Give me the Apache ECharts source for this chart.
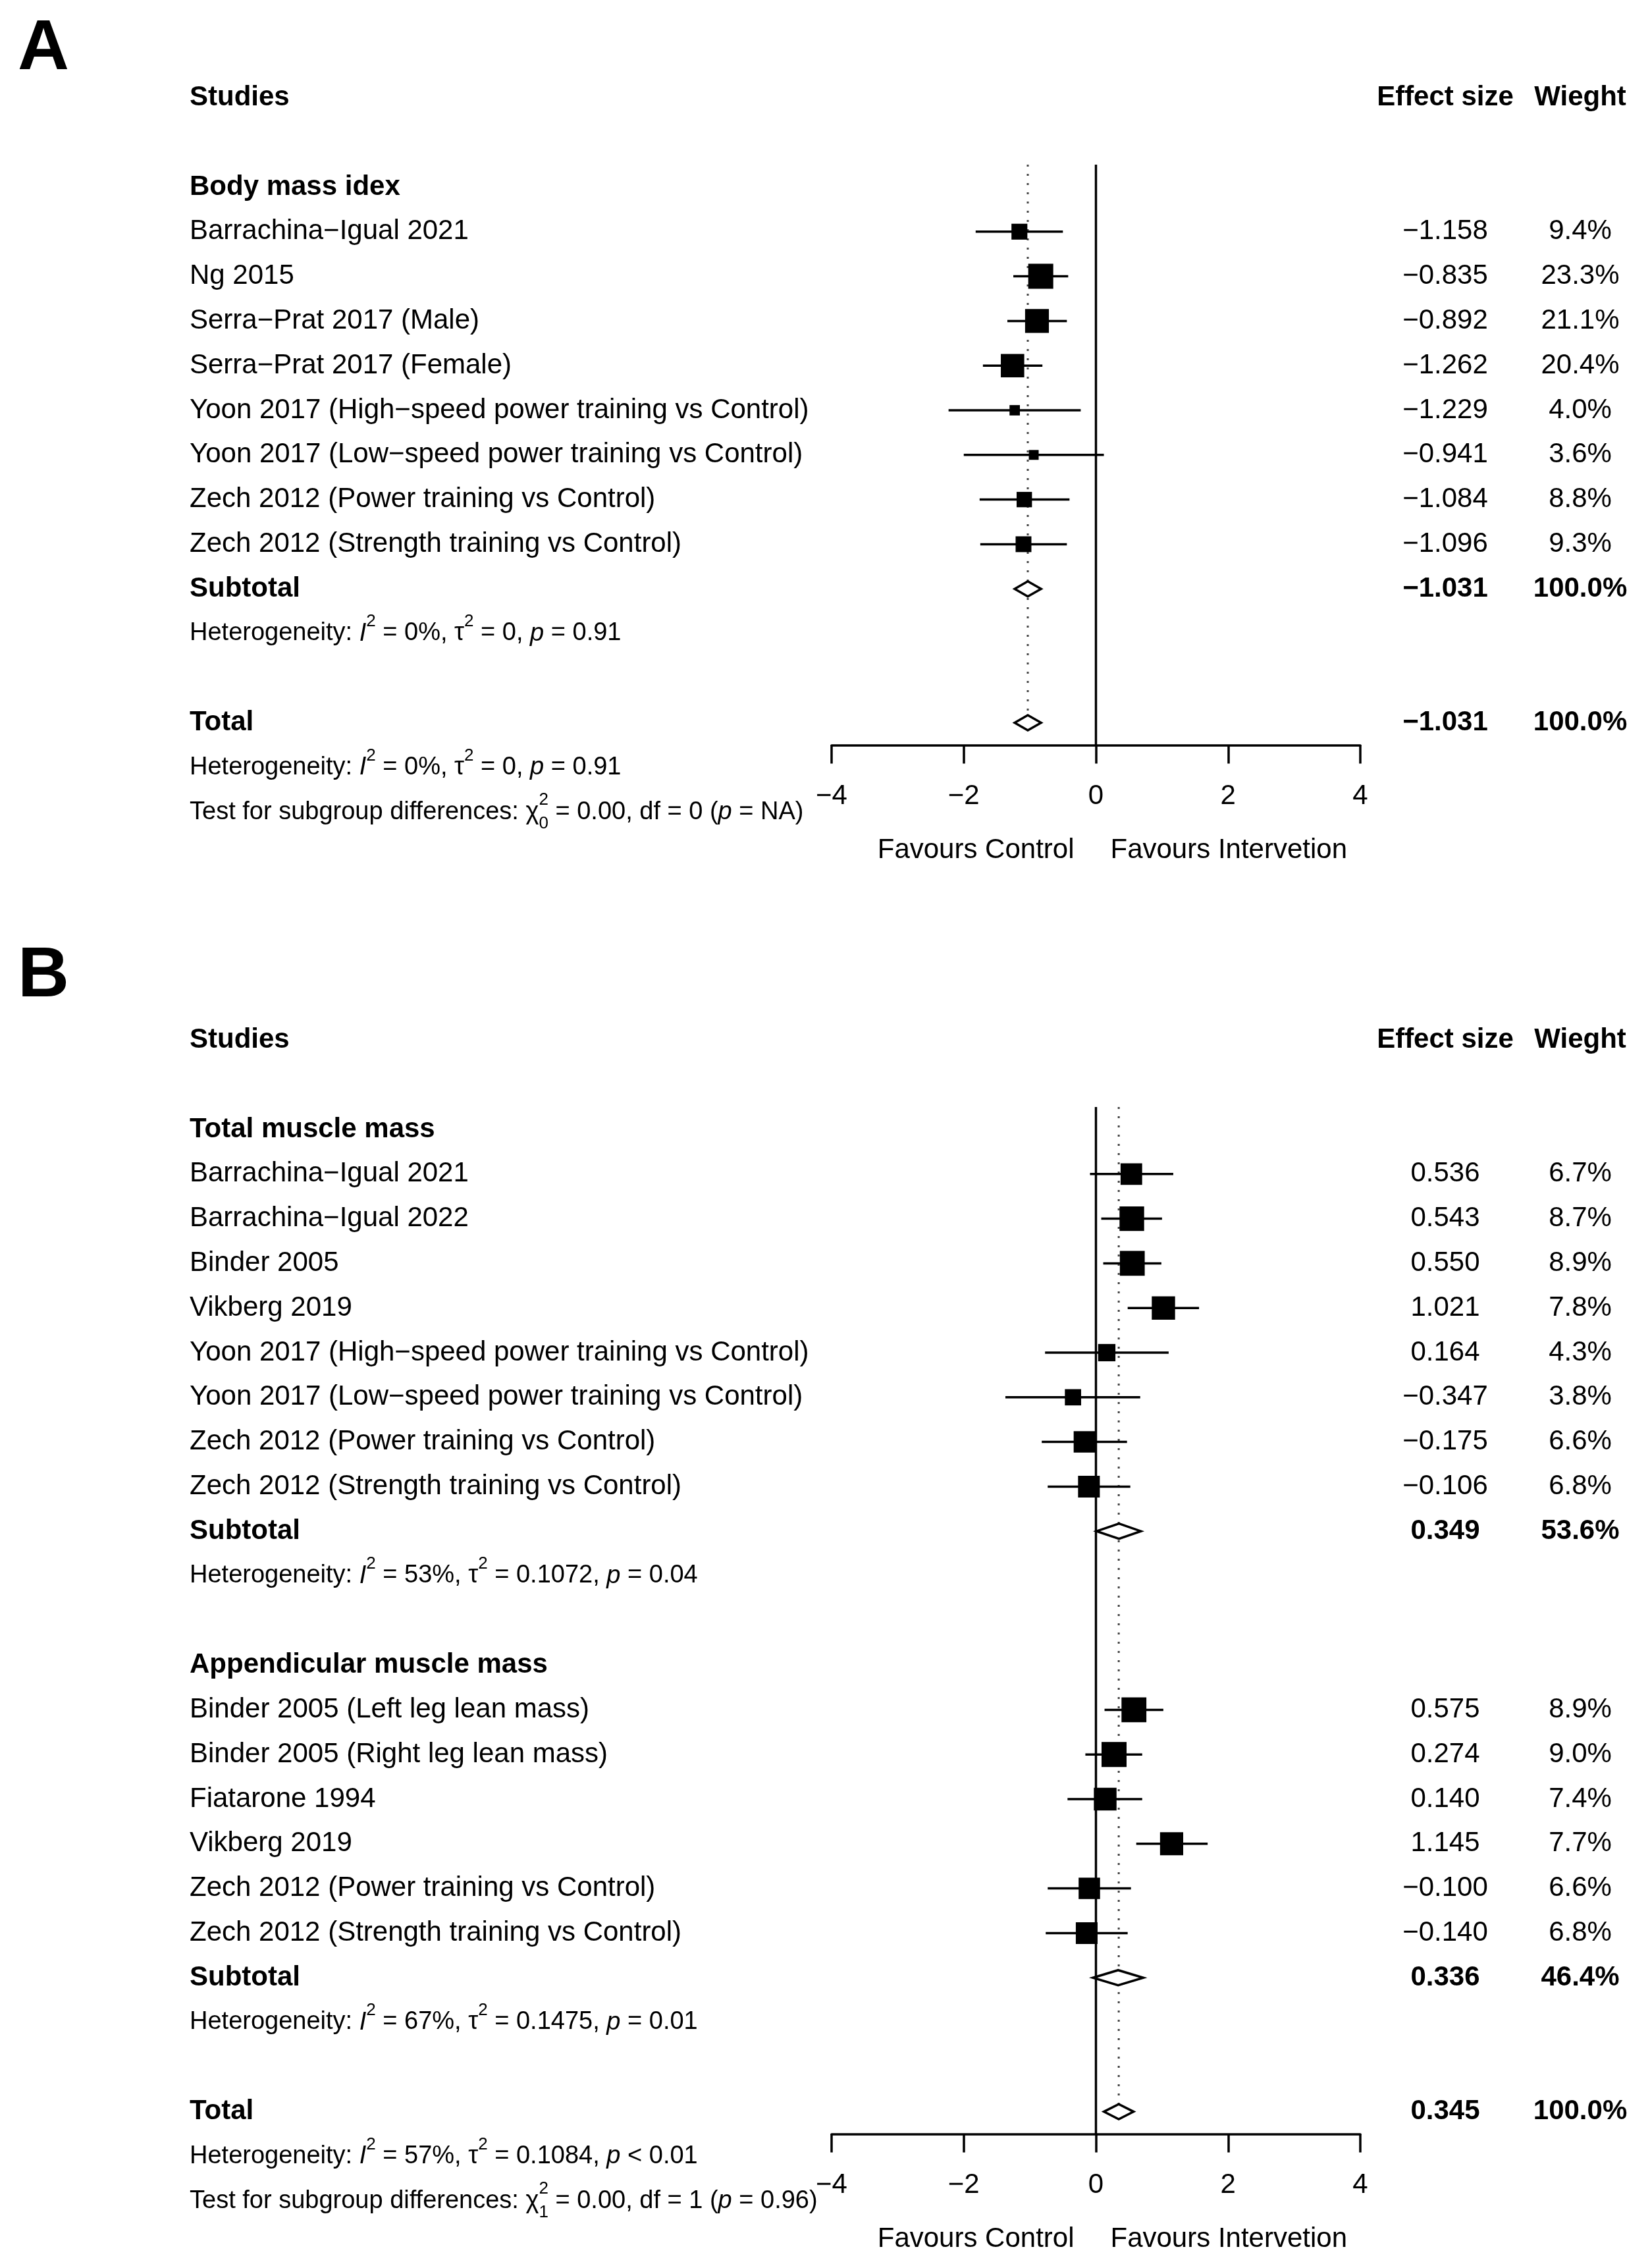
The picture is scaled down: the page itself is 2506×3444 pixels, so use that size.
<!DOCTYPE html>
<html><head><meta charset="utf-8">
<script src="https://cdn.jsdelivr.net/npm/echarts@6/dist/echarts.min.js"></script>
<style>html,body{margin:0;padding:0;background:#fff}#c{width:2506px;height:3444px}</style>
</head><body><div id="c"></div>
<script>
// ---------------- Panel A : Body mass index ----------------
const aGroup = 'Body mass idex';
const aStudies = ['Barrachina\u2212Igual 2021','Ng 2015','Serra\u2212Prat 2017 (Male)','Serra\u2212Prat 2017 (Female)',
  'Yoon 2017 (High\u2212speed power training vs Control)','Yoon 2017 (Low\u2212speed power training vs Control)',
  'Zech 2012 (Power training vs Control)','Zech 2012 (Strength training vs Control)'];
const aEffect = [-1.158,-0.835,-0.892,-1.262,-1.229,-0.941,-1.084,-1.096];
const aLower  = [-1.82,-1.25,-1.34,-1.71,-2.23,-2.00,-1.76,-1.75];
const aUpper  = [-0.50,-0.42,-0.44,-0.81,-0.23,0.12,-0.40,-0.44];
const aWeight = [9.4,23.3,21.1,20.4,4.0,3.6,8.8,9.3];
const aSubtotal = [-1.031,-1.23,-0.83,100.0];   // est, lower, upper, weight
const aHet = 'Heterogeneity: {i|I}{sup|2} = 0%, \u03c4{sup|2} = 0, {i|p} = 0.91';
const aTotal = [-1.031,-1.23,-0.83,100.0];
const aHetTotal = 'Heterogeneity: {i|I}{sup|2} = 0%, \u03c4{sup|2} = 0, {i|p} = 0.91';
const aTest = 'Test for subgroup differences: \u03c7{sup0|2}{sub|0} = 0.00, df = 0 ({i|p} = NA)';

// ---------------- Panel B : Muscle mass ----------------
const bTmGroup = 'Total muscle mass';
const bTmStudies = ['Barrachina\u2212Igual 2021','Barrachina\u2212Igual 2022','Binder 2005','Vikberg 2019',
  'Yoon 2017 (High\u2212speed power training vs Control)','Yoon 2017 (Low\u2212speed power training vs Control)',
  'Zech 2012 (Power training vs Control)','Zech 2012 (Strength training vs Control)'];
const bTmEffect = [0.536,0.543,0.550,1.021,0.164,-0.347,-0.175,-0.106];
const bTmLower  = [-0.09,0.08,0.11,0.48,-0.77,-1.37,-0.82,-0.73];
const bTmUpper  = [1.17,1.00,0.99,1.56,1.10,0.67,0.47,0.52];
const bTmWeight = [6.7,8.7,8.9,7.8,4.3,3.8,6.6,6.8];
const bTmSubtotal = [0.349,0.01,0.68,53.6];
const bTmHet = 'Heterogeneity: {i|I}{sup|2} = 53%, \u03c4{sup|2} = 0.1072, {i|p} = 0.04';

const bAmGroup = 'Appendicular muscle mass';
const bAmStudies = ['Binder 2005 (Left leg lean mass)','Binder 2005 (Right leg lean mass)','Fiatarone 1994','Vikberg 2019',
  'Zech 2012 (Power training vs Control)','Zech 2012 (Strength training vs Control)'];
const bAmEffect = [0.575,0.274,0.140,1.145,-0.100,-0.140];
const bAmLower  = [0.13,-0.16,-0.43,0.61,-0.73,-0.76];
const bAmUpper  = [1.02,0.70,0.70,1.69,0.53,0.48];
const bAmWeight = [8.9,9.0,7.4,7.7,6.6,6.8];
const bAmSubtotal = [0.336,-0.045,0.717,46.4];
const bAmHet = 'Heterogeneity: {i|I}{sup|2} = 67%, \u03c4{sup|2} = 0.1475, {i|p} = 0.01';

const bTotal = [0.345,0.12,0.57,100.0];
const bHetTotal = 'Heterogeneity: {i|I}{sup|2} = 57%, \u03c4{sup|2} = 0.1084, {i|p} < 0.01';
const bTest = 'Test for subgroup differences: \u03c7{sup0|2}{sub|1} = 0.00, df = 1 ({i|p} = 0.96)';

const xTicks = [-4,-2,0,2,4];

// ---------------- layout constants ----------------
const FONT = '"Liberation Sans", Arial, Helvetica, sans-serif';
const ROW = 67.8;
const GRID_LEFT = 1263, GRID_W = 803;
const COL_LABEL_X = 288, COL_EFF_X = 2195, COL_W_X = 2400;
const SQ_MAX = 38;
const FS = 42, FS_SMALL = 38;

const panels = [
  { row0: 284, letter: 'A', letterTop: 21, groups: [
      {name: aGroup, studies: aStudies, effect: aEffect, lower: aLower, upper: aUpper, weight: aWeight, sub: aSubtotal, het: aHet}],
    total: aTotal, hetTotal: aHetTotal, test: aTest },
  { row0: 1715, letter: 'B', letterTop: 1429, groups: [
      {name: bTmGroup, studies: bTmStudies, effect: bTmEffect, lower: bTmLower, upper: bTmUpper, weight: bTmWeight, sub: bTmSubtotal, het: bTmHet},
      {name: bAmGroup, studies: bAmStudies, effect: bAmEffect, lower: bAmLower, upper: bAmUpper, weight: bAmWeight, sub: bAmSubtotal, het: bAmHet}],
    total: bTotal, hetTotal: bHetTotal, test: bTest }
];

const fmt3 = v => v.toFixed(3).replace('-', '\u2212');
const fmtW = v => v.toFixed(1) + '%';

function layoutPanel(P) {
  const texts = [], squares = [], diamonds = [];
  let maxW = 0;
  P.groups.forEach(g => g.weight.forEach(w => { if (w > maxW) maxW = w; }));
  texts.push({k: -2, kind: 'header'});
  let k = 0;
  P.groups.forEach(g => {
    texts.push({k, kind: 'group', label: g.name}); k++;
    g.studies.forEach((s, i) => {
      texts.push({k, kind: 'study', label: s, eff: g.effect[i], w: g.weight[i]});
      squares.push([g.effect[i], k, g.lower[i], g.upper[i], SQ_MAX * Math.sqrt(g.weight[i] / maxW)]);
      k++;
    });
    texts.push({k, kind: 'sub', label: 'Subtotal', eff: g.sub[0], w: g.sub[3]});
    diamonds.push([g.sub[0], k, g.sub[1], g.sub[2]]); k++;
    texts.push({k, kind: 'het', rich: g.het}); k++;
    k++;
  });
  const totalRow = k;
  texts.push({k, kind: 'sub', label: 'Total', eff: P.total[0], w: P.total[3]});
  diamonds.push([P.total[0], k, P.total[1], P.total[2]]); k++;
  texts.push({k, kind: 'het', rich: P.hetTotal}); k++;
  texts.push({k, kind: 'het', rich: P.test});
  const yMax = totalRow + 0.5;
  return {texts, squares, diamonds, totalRow, yMax, totalEst: P.total[0]};
}

const richStyles = {
  i:    {fontStyle: 'italic', fontSize: FS_SMALL, fontFamily: FONT, lineHeight: 62, fill: '#000'},
  sup:  {fontSize: 26, fontFamily: FONT, lineHeight: 26, verticalAlign: 'top', fill: '#000'},
  sup0: {fontSize: 26, fontFamily: FONT, lineHeight: 26, verticalAlign: 'top', width: 0, fill: '#000'},
  sub:  {fontSize: 26, fontFamily: FONT, lineHeight: 26, verticalAlign: 'bottom', fill: '#000'}
};

function txt(x, y, text, extra) {
  return {type: 'text', x: x, y: y, style: Object.assign({
    text: text, fill: '#000', fontSize: FS, fontFamily: FONT,
    align: 'left', verticalAlign: 'middle', textAlign: 'left', textVerticalAlign: 'middle'}, extra || {})};
}

function makeTextRender(texts) {
  return function (params, api) {
    const t = texts[params.dataIndex];
    const y = api.coord([0, t.k])[1];
    const els = [];
    const B = {fontWeight: 'bold'};
    const C = {align: 'center', textAlign: 'center'};
    if (t.kind === 'header') {
      els.push(txt(COL_LABEL_X, y, 'Studies', B));
      els.push(txt(COL_EFF_X, y, 'Effect size', Object.assign({}, B, C)));
      els.push(txt(COL_W_X, y, 'Wieght', Object.assign({}, B, C)));
    } else if (t.kind === 'group') {
      els.push(txt(COL_LABEL_X, y, t.label, B));
    } else if (t.kind === 'study') {
      els.push(txt(COL_LABEL_X, y, t.label));
      els.push(txt(COL_EFF_X, y, fmt3(t.eff), C));
      els.push(txt(COL_W_X, y, fmtW(t.w), C));
    } else if (t.kind === 'sub') {
      els.push(txt(COL_LABEL_X, y, t.label, B));
      els.push(txt(COL_EFF_X, y, fmt3(t.eff), Object.assign({}, B, C)));
      els.push(txt(COL_W_X, y, fmtW(t.w), Object.assign({}, B, C)));
    } else if (t.kind === 'het') {
      els.push(txt(COL_LABEL_X, y, t.rich, {fontSize: FS_SMALL, lineHeight: 62, rich: richStyles}));
    }
    return {type: 'group', children: els};
  };
}

function renderStudy(params, api) {
  const est = api.value(0), row = api.value(1), lo = api.value(2), hi = api.value(3), side = api.value(4);
  const c = api.coord([est, row]), l = api.coord([lo, row]), h = api.coord([hi, row]);
  return {type: 'group', children: [
    {type: 'line', shape: {x1: l[0], y1: l[1], x2: h[0], y2: h[1]}, style: {stroke: '#000', lineWidth: 3.5}},
    {type: 'rect', shape: {x: c[0] - side / 2, y: c[1] - side / 2, width: side, height: side}, style: {fill: '#000'}}
  ]};
}

function renderDiamond(params, api) {
  const est = api.value(0), row = api.value(1), lo = api.value(2), hi = api.value(3);
  const c = api.coord([est, row]), l = api.coord([lo, row]), h = api.coord([hi, row]);
  const hh = 11.5;
  return {type: 'polygon', shape: {points: [[l[0], c[1]], [c[0], c[1] - hh], [h[0], c[1]], [c[0], c[1] + hh]]},
    style: {fill: '#fff', stroke: '#000', lineWidth: 3.5}};
}

function renderRef(params, api) {
  const x = api.value(0), y0 = api.value(1), y1 = api.value(2), dotted = api.value(3);
  const a = api.coord([x, y0]), b = api.coord([x, y1]);
  return {type: 'line', shape: {x1: a[0], y1: a[1], x2: b[0], y2: b[1]},
    style: dotted ? {stroke: '#444', lineWidth: 3, lineDash: [3, 11]} : {stroke: '#000', lineWidth: 3.5}};
}

const grids = [], xAxes = [], yAxes = [], series = [], graphics = [];
panels.forEach((P, pi) => {
  const L = layoutPanel(P);
  const yMin = -0.5;
  const top = P.row0 + yMin * ROW;
  const height = (L.yMax - yMin) * ROW;
  grids.push({left: GRID_LEFT, width: GRID_W, top: top, height: height, containLabel: false});
  xAxes.push({type: 'value', gridIndex: pi, min: xTicks[0], max: xTicks[xTicks.length - 1], interval: 2,
    position: 'bottom', splitLine: {show: false},
    axisLine: {show: true, onZero: false, lineStyle: {color: '#000', width: 3.5}},
    axisTick: {show: true, length: 28, lineStyle: {color: '#000', width: 3.5}},
    axisLabel: {show: true, fontSize: FS, fontFamily: FONT, color: '#000', margin: 57, showMinLabel: true, showMaxLabel: true,
      formatter: v => String(v).replace('-', '\u2212')}});
  yAxes.push({type: 'value', gridIndex: pi, inverse: true, min: yMin, max: L.yMax, show: false});

  series.push({type: 'custom', xAxisIndex: pi, yAxisIndex: pi, renderItem: renderRef, silent: true, z: 1,
    data: [[0, yMin, L.yMax, 0], [L.totalEst, yMin, L.totalRow, 1]]});
  series.push({type: 'custom', xAxisIndex: pi, yAxisIndex: pi, renderItem: renderStudy, silent: true, z: 2, data: L.squares});
  series.push({type: 'custom', xAxisIndex: pi, yAxisIndex: pi, renderItem: renderDiamond, silent: true, z: 3, data: L.diamonds});
  series.push({type: 'custom', xAxisIndex: pi, yAxisIndex: pi, renderItem: makeTextRender(L.texts), silent: true, z: 4,
    data: L.texts.map(t => [0, t.k])});

  const axisY = top + height;
  const zeroX = GRID_LEFT + (0 - xTicks[0]) / (xTicks[xTicks.length - 1] - xTicks[0]) * GRID_W;
  graphics.push({type: 'text', left: 27, top: P.letterTop,
    style: {text: P.letter, fontSize: 108, fontWeight: 'bold', fontFamily: FONT, fill: '#000'}});
  graphics.push({type: 'text', x: zeroX - 33, y: axisY + 160,
    style: {text: 'Favours Control', fontSize: FS, fontFamily: FONT, fill: '#000', align: 'right', verticalAlign: 'middle'}});
  graphics.push({type: 'text', x: zeroX + 22, y: axisY + 160,
    style: {text: 'Favours Intervetion', fontSize: FS, fontFamily: FONT, fill: '#000', align: 'left', verticalAlign: 'middle'}});
});

const chart = echarts.init(document.getElementById('c'), null, {renderer: 'canvas'});
chart.setOption({
  animation: false,
  backgroundColor: '#fff',
  grid: grids, xAxis: xAxes, yAxis: yAxes, series: series, graphic: graphics
});
</script>
</body></html>
